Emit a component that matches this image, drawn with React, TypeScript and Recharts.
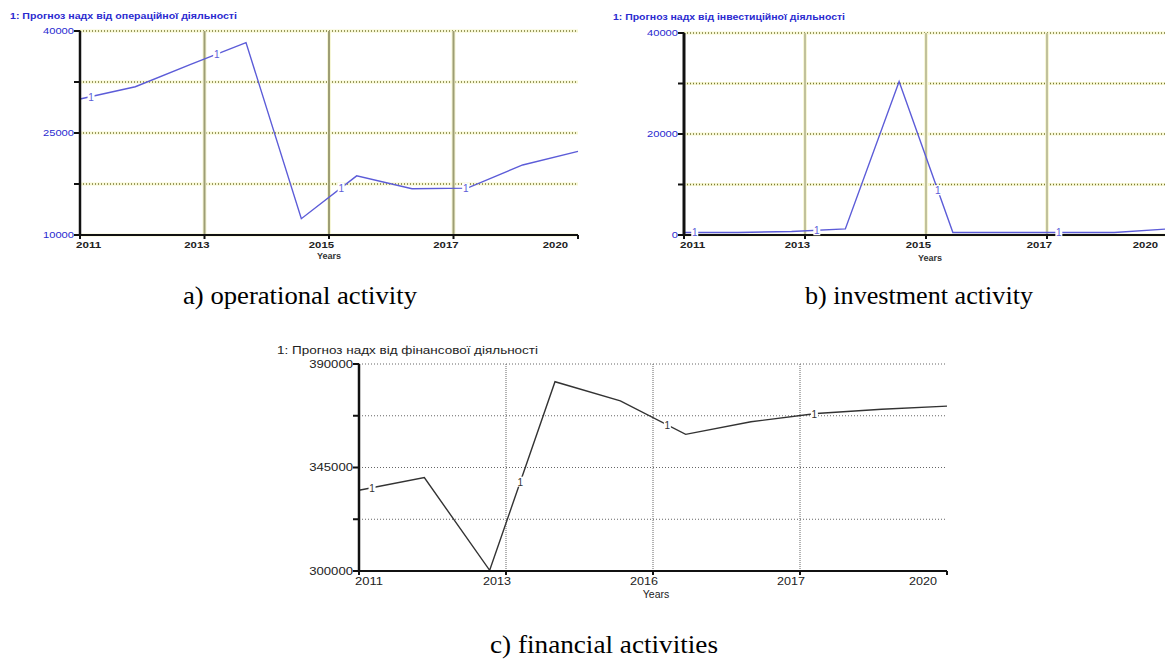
import React from 'react';
import { LineChart, Line, XAxis, YAxis, CartesianGrid, ReferenceLine, ReferenceDot } from 'recharts';

// yearly model steps, 2011..2020
const years = [2011, 2012, 2013, 2014, 2015, 2016, 2017, 2018, 2019, 2020];

// x axis: five evenly spaced ticks, labelled as in the model output
const xTicks = [2011, 2013.25, 2015.5, 2017.75, 2020];
const xLabelsAB = ['2011', '2013', '2015', '2017', '2020'];
const xLabelsC = ['2011', '2013', '2016', '2017', '2020'];

// series "1" of each run
const operational = [30000, 31800, 35100, 38300, 12400, 18700, 16800, 16900, 20300, 22300];
const investment = [500, 500, 700, 1200, 30400, 500, 500, 500, 500, 1200];
const financial = [335100, 340600, 300300, 382300, 374000, 359400, 364900, 368500, 370300, 371700];

// y ticks (only some of them carry a label)
const yTicksA = [10000, 17500, 25000, 32500, 40000];
const yLabelsA = ['10000', '', '25000', '', '40000'];
const yTicksB = [0, 10000, 20000, 30000, 40000];
const yLabelsB = ['0', '', '20000', '', '40000'];
const yTicksC = [300000, 322500, 345000, 367500, 390000];
const yLabelsC = ['300000', '', '345000', '', '390000'];

// where the "1" series markers sit along the time axis
const markerYears = [2011.2, 2013.47, 2015.72, 2017.97];

const toRows = (vals: number[]) => years.map((year, i) => ({ year, value: vals[i] }));

const valueAt = (vals: number[], t: number) => {
  const p = t - years[0];
  const i = Math.min(Math.floor(p), vals.length - 2);
  const f = p - i;
  return vals[i] + (vals[i + 1] - vals[i]) * f;
};

const SANS = '"Liberation Sans", Arial, sans-serif';
const SERIF = '"Liberation Serif", "Times New Roman", serif';

type TickCfg = { labels: string[]; size: number; charW: number; color: string; bold?: boolean };

const makeYTick = (cfg: TickCfg) => (props: any) => {
  const { x, y, index } = props;
  const s = cfg.labels[index] || '';
  if (!s) return <g />;
  const w = s.length * cfg.charW;
  return (
    <text x={x - w + 1} y={y + cfg.size * 0.36} fontSize={cfg.size} fontFamily={SANS} fill={cfg.color}
      fontWeight={cfg.bold ? 'bold' : 'normal'} textLength={w} lengthAdjust="spacingAndGlyphs">{s}</text>
  );
};

const makeXTick = (cfg: TickCfg) => (props: any) => {
  const { x, y, index } = props;
  const s = cfg.labels[index] || '';
  const w = s.length * cfg.charW;
  const last = index === cfg.labels.length - 1;
  const sx = index === 0 ? x - 4 : last ? x - 10 - w : x + 5 - w;
  return (
    <text x={sx} y={y + cfg.size * 0.8} fontSize={cfg.size} fontFamily={SANS} fill={cfg.color}
      fontWeight={cfg.bold ? 'bold' : 'normal'} textLength={w} lengthAdjust="spacingAndGlyphs">{s}</text>
  );
};

const makeMarker = (color: string) => (props: any) => {
  const { cx, cy } = props;
  return (
    <g>
      <rect x={cx - 3.5} y={cy - 5} width={7} height={10} fill="#fff" />
      <text x={cx} y={cy + 4} textAnchor="middle" fontSize={10} fontFamily={SANS} fill={color}>1</text>
    </g>
  );
};

const BLUE_LINE = '#5c5cd8';
const BLUE_TEXT = '#2a2ad0';

function RunChart(props: {
  vals: number[]; width: number; height: number; margin: any; yWidth: number; xHeight: number;
  domain: [number, number]; yTicks: number[]; yTick: any; xTick: any; color: string;
  variant: 'yellow' | 'gray'; axisW: number; vWidth?: number;
}) {
  const { vals, variant, color } = props;
  const yellow = variant === 'yellow';
  return (
    <LineChart width={props.width} height={props.height} data={toRows(vals)} margin={props.margin}>
      {yellow && <CartesianGrid vertical={false} stroke="#f7f7d2" strokeWidth={3} />}
      <CartesianGrid vertical={false} stroke={yellow ? '#7a7a38' : '#666'} strokeDasharray="1 2" strokeWidth={yellow ? 1.3 : 1} />
      {xTicks.slice(1, 4).map((t) => yellow && (
        <ReferenceLine key={'h' + t} x={t} stroke="#f6f6d6" strokeWidth={4} />
      ))}
      {xTicks.slice(1, 4).map((t) => (
        <ReferenceLine key={'v' + t} x={t} stroke={yellow ? '#9e9e74' : '#666'}
          strokeWidth={yellow ? props.vWidth ?? 1.5 : 1} strokeDasharray={yellow ? undefined : '1 1'} />
      ))}
      <XAxis dataKey="year" type="number" domain={[2011, 2020]} ticks={xTicks} interval={0}
        height={props.xHeight} tickSize={4} tickMargin={2}
        axisLine={{ stroke: '#111', strokeWidth: 2 }} tickLine={{ stroke: '#111', strokeWidth: 2 }}
        tick={props.xTick} />
      <YAxis type="number" domain={props.domain} ticks={props.yTicks} interval={0} width={props.yWidth}
        tickSize={6} tickMargin={1}
        axisLine={{ stroke: '#111', strokeWidth: props.axisW }} tickLine={{ stroke: '#111', strokeWidth: 2 }}
        tick={props.yTick} />
      <Line type="linear" dataKey="value" stroke={color} strokeWidth={1.4} dot={false} isAnimationActive={false} />
      {markerYears.map((t) => (
        <ReferenceDot key={'m' + t} x={t} y={valueAt(vals, t)} shape={makeMarker(color)} />
      ))}
    </LineChart>
  );
}

export default function App() {
  return (
    <div style={{ position: 'absolute', left: 0, top: 0, width: 1165, height: 659, overflow: 'hidden', background: '#fff' }}>
      {/* a) operational activity */}
      <div style={{ position: 'absolute', left: 0, top: 0 }}>
        <RunChart vals={operational} width={600} height={270} margin={{ top: 31, right: 22, left: 0, bottom: 0 }}
          yWidth={80} xHeight={35} domain={[10000, 40000]} yTicks={yTicksA}
          yTick={makeYTick({ labels: yLabelsA, size: 9, charW: 6.2, color: BLUE_TEXT })}
          xTick={makeXTick({ labels: xLabelsAB, size: 9, charW: 6.3, color: '#222', bold: true })}
          color={BLUE_LINE} variant="yellow" axisW={2.5} vWidth={2} />
      </div>
      {/* b) investment activity */}
      <div style={{ position: 'absolute', left: 600, top: 0 }}>
        <RunChart vals={investment} width={600} height={270} margin={{ top: 33, right: 32, left: 0, bottom: 0 }}
          yWidth={84} xHeight={35} domain={[0, 40000]} yTicks={yTicksB}
          yTick={makeYTick({ labels: yLabelsB, size: 9, charW: 6.2, color: BLUE_TEXT })}
          xTick={makeXTick({ labels: xLabelsAB, size: 9, charW: 6.3, color: '#222', bold: true })}
          color={BLUE_LINE} variant="yellow" axisW={3} vWidth={1.2} />
      </div>
      {/* c) financial activities */}
      <div style={{ position: 'absolute', left: 260, top: 335 }}>
        <RunChart vals={financial} width={700} height={275} margin={{ top: 29, right: 13, left: 0, bottom: 0 }}
          yWidth={99} xHeight={39} domain={[300000, 390000]} yTicks={yTicksC}
          yTick={makeYTick({ labels: yLabelsC, size: 10.5, charW: 7.3, color: '#222' })}
          xTick={makeXTick({ labels: xLabelsC, size: 10.5, charW: 7, color: '#222' })}
          color="#333" variant="gray" axisW={2.5} />
      </div>
      <svg width={1165} height={659} style={{ position: 'absolute', left: 0, top: 0, pointerEvents: 'none' }}>
        <text x={10} y={19} fontSize={9} fontWeight="bold" fontFamily={SANS} fill={BLUE_TEXT}
          textLength={227} lengthAdjust="spacingAndGlyphs">1: Прогноз надх від операційної діяльності</text>
        <text x={613} y={20} fontSize={9} fontWeight="bold" fontFamily={SANS} fill={BLUE_TEXT}
          textLength={232} lengthAdjust="spacingAndGlyphs">1: Прогноз надх від інвестиційної діяльності</text>
        <text x={277} y={354} fontSize={10} fontFamily={SANS} fill="#222"
          textLength={261} lengthAdjust="spacingAndGlyphs">1: Прогноз надх від фінансової діяльності</text>
        <text x={329} y={259} fontSize={9} fontWeight="bold" fontFamily={SANS} fill="#333" textAnchor="middle">Years</text>
        <text x={930} y={261} fontSize={9} fontWeight="bold" fontFamily={SANS} fill="#333" textAnchor="middle">Years</text>
        <text x={656} y={598} fontSize={10.5} fontFamily={SANS} fill="#222" textAnchor="middle">Years</text>
        <text x={183} y={304} fontSize={25} fontFamily={SERIF} fill="#000"
          textLength={234} lengthAdjust="spacingAndGlyphs">a) operational activity</text>
        <text x={805} y={304} fontSize={25} fontFamily={SERIF} fill="#000"
          textLength={228} lengthAdjust="spacingAndGlyphs">b) investment activity</text>
        <text x={490} y={653} fontSize={25} fontFamily={SERIF} fill="#000"
          textLength={228} lengthAdjust="spacingAndGlyphs">c) financial activities</text>
      </svg>
    </div>
  );
}
